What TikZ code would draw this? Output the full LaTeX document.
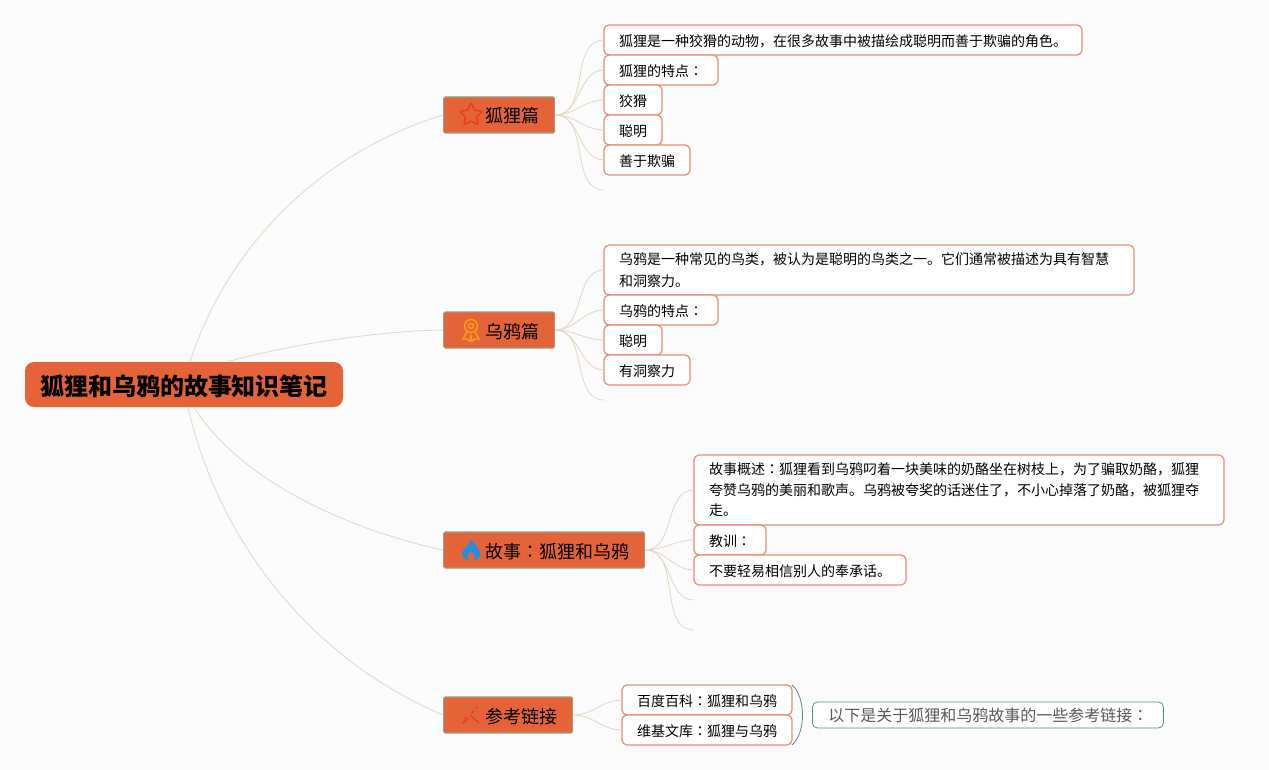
\documentclass[tikz,border=0pt]{standalone}
\usepackage{fontspec}
\setmainfont{Noto Sans CJK SC}
\newfontfamily\tcfont{Noto Sans CJK TC}
\newcommand{\midcolon}{{\tcfont ：}}
\newcommand{\dropline}[1]{\raisebox{-1.2pt}{#1}}
\usepackage{xcolor}
\usepackage{tikz}
\usetikzlibrary{positioning,shapes}
\definecolor{paper}{HTML}{FBFBFB}
\definecolor{rust}{HTML}{E56338}
\definecolor{coral}{HTML}{E98C74}
\definecolor{sand}{HTML}{E3D7C2}
\definecolor{moss}{HTML}{9C9C82}
\definecolor{teal}{HTML}{4F9188}
\definecolor{flame}{HTML}{2090DE}
\definecolor{medal}{HTML}{F5A00F}
\definecolor{ember}{HTML}{EC3C1C}
\tikzstyle{root}=[%
      rectangle, rounded corners=9pt, fill=rust, text=black,
      minimum height=45pt, minimum width=318pt, inner sep=0pt,
      text height=28pt, text depth=6pt,
      font=\fontsize{24}{28}\selectfont\bfseries
]
\tikzstyle{topic}=[%
      rectangle, rounded corners=1.5pt, draw=moss, line width=1.2pt, fill=rust,
      minimum height=36pt, inner xsep=15pt, inner ysep=0pt, align=left,
      text height=20pt, text depth=4pt,
      text width=#1, font=\fontsize{18}{22}\selectfont
]
\tikzstyle{leaf}=[%
      rectangle, rounded corners=5pt, draw=coral, line width=1.2pt, fill=white,
      minimum height=30pt, inner xsep=15pt, inner ysep=0pt, outer sep=0pt, align=left,
      text height=16pt, text depth=3.4pt,
      text width=#1, font=\fontsize{14}{20.5}\selectfont
]
\tikzstyle{longleaf}=[%
      leaf=#1, text height=, text depth=
]
\tikzstyle{note}=[%
      rectangle, rounded corners=5pt, draw=teal, line width=.8pt, fill=white, text=black!65,
      minimum height=26pt, inner xsep=16pt, inner ysep=0pt, align=left,
      text width=#1, font=\fontsize{16}{20}\selectfont
]
\tikzstyle{branch}=[draw=sand, line width=.8pt]
\begin{document}
\begin{tikzpicture}[x=1pt,y=-1pt]
    \path[use as bounding box, fill=paper] (0,0) rectangle (1269,770);

    \node[root] (root) at (184,384.5) {狐狸和乌鸦的故事知识笔记};

    \node[topic=81pt,  anchor=west] (fox)   at (443,115) {\hspace*{27pt}狐狸篇};
    \node[topic=81pt,  anchor=west] (crow)  at (443,330) {\hspace*{27pt}乌鸦篇};
    \node[topic=171pt, anchor=west] (story) at (443,550) {\hspace*{27pt}故事\midcolon 狐狸和乌鸦};
    \node[topic=99pt,  anchor=west] (refs)  at (443,715) {\hspace*{27pt}参考链接};

    % fox
    \node[leaf=448pt, anchor=north west] (fox1) at (604,25) {狐狸是一种狡猾的动物，在很多故事中被描绘成聪明而善于欺骗的角色。};
    \node[leaf=84pt]  (fox2) [below right = 0pt and 0pt of fox1.south west] {狐狸的特点\midcolon};
    \node[leaf=28pt]  (fox3) [below right = 0pt and 0pt of fox2.south west] {狡猾};
    \node[leaf=28pt]  (fox4) [below right = 0pt and 0pt of fox3.south west] {聪明};
    \node[leaf=56pt]  (fox5) [below right = 0pt and 0pt of fox4.south west] {善于欺骗};
    \coordinate (fox6) at (604,190);

    % crow
    \node[longleaf=500pt, minimum height=50pt, anchor=north west] (crow1) at (604,245)
        {\dropline{乌鸦是一种常见的鸟类，被认为是聪明的鸟类之一。它们通常被描述为具有智慧}\\[1.5pt]\dropline{和洞察力。}};
    \node[leaf=84pt]  (crow2) [below right = 0pt and 0pt of crow1.south west] {乌鸦的特点\midcolon};
    \node[leaf=28pt]  (crow3) [below right = 0pt and 0pt of crow2.south west] {聪明};
    \node[leaf=56pt]  (crow4) [below right = 0pt and 0pt of crow3.south west] {有洞察力};
    \coordinate (crow5) at (604,400);

    % story
    \node[longleaf=500pt, minimum height=70pt, anchor=north west] (story1) at (694,455)
        {\dropline{故事概述\midcolon 狐狸看到乌鸦叼着一块美味的奶酪坐在树枝上，为了骗取奶酪，狐狸}\\\dropline{夸赞乌鸦的美丽和歌声。乌鸦被夸奖的话迷住了，不小心掉落了奶酪，被狐狸夺}\\\dropline{走。}};
    \node[leaf=42pt]  (story2) [below right = 0pt and 0pt of story1.south west] {教训\midcolon};
    \node[leaf=182pt] (story3) [below right = 0pt and 0pt of story2.south west] {不要轻易相信别人的奉承话。};
    \coordinate (story4) at (694,600);
    \coordinate (story5) at (694,630);

    % links
    \node[leaf=140pt, anchor=north west] (refs1) at (622,685) {百度百科\midcolon 狐狸和乌鸦};
    \node[leaf=140pt] (refs2) [below right = 0pt and 0pt of refs1.south west] {维基文库\midcolon 狐狸与乌鸦};
    \node[note=319pt, anchor=west] (summary) at (812,715) {以下是关于狐狸和乌鸦故事的一些参考链接\midcolon};
    \draw[teal, line width=.8pt] (refs1.north east) .. controls (806,697) and (806,733) .. (refs2.south east);

    \path[branch] ([xshift=6pt]root.north) edge[out=72, in=197, looseness=.9] (fox.west)
          ([xshift=43pt]root.north) edge[out=15, in=181, looseness=.8] (crow.west)
          ([xshift=10pt]root.south) edge[out=-58, in=168, looseness=.8] (story.west)
          ([xshift=4pt]root.south) edge[out=-77, in=157, looseness=.9] (refs.west)
    ;
    \path[branch] (fox.east) edge[out=0, in=180] (fox1.west)
          (fox.east) edge[out=0, in=180] (fox2.west)
          (fox.east) edge[out=0, in=180] (fox3.west)
          (fox.east) edge[out=0, in=180] (fox4.west)
          (fox.east) edge[out=0, in=180] (fox5.west)
          (fox.east) edge[out=0, in=180] (fox6)
          (crow.east) edge[out=0, in=180] (crow1.west)
          (crow.east) edge[out=0, in=180] (crow2.west)
          (crow.east) edge[out=0, in=180] (crow3.west)
          (crow.east) edge[out=0, in=180] (crow4.west)
          (crow.east) edge[out=0, in=180] (crow5)
          (story.east) edge[out=0, in=180] (story1.west)
          (story.east) edge[out=0, in=180] (story2.west)
          (story.east) edge[out=0, in=180] (story3.west)
          (story.east) edge[out=0, in=180] (story4)
          (story.east) edge[out=0, in=180] (story5)
          (refs.east) edge[out=0, in=180] (refs1.west)
          (refs.east) edge[out=0, in=180] (refs2.west)
    ;

    % icons
    \node[star, star points=5, star point ratio=2, draw=ember, line width=1.5pt,
          minimum size=24pt, inner sep=0pt, rounded corners=1pt] (foxmark) at (471,115) {};
    \begin{scope}[shift={(471,330)}, draw=medal, line width=1.4pt]
      \draw (0,-4) circle (6.5pt);
      \draw (0,-4) circle (2.5pt);
      \draw (-4,2) -- (-8,9) -- (-4,9) -- (-1,11) -- (0,6) -- (1,11) -- (4,9) -- (8,9) -- (4,2);
    \end{scope}
    \begin{scope}[shift={(471,550)}]
      \fill[flame] (0,-10) .. controls (3,-6) and (9,-2) .. (9,4)
          .. controls (9,8) and (5,10) .. (3,10) .. controls (5,6) and (2,3) .. (0,1)
          .. controls (-2,3) and (-5,6) .. (-3,10) .. controls (-5,10) and (-9,8) .. (-9,4)
          .. controls (-9,0) and (-4,-3) .. (0,-10) -- cycle;
    \end{scope}
    \begin{scope}[shift={(471,715)}]
      \draw[ember, line width=1.6pt, line cap=round] (-8,8) -- (-3,3);
      \draw[ember, line width=1.2pt, line cap=round] (-1,0) -- (8,8);
      \draw[ember, line width=1.4pt, line cap=round] (1,-2) -- (2.5,-4) (5,-7) -- (6,-8) (-6,2) -- (-7,3);
    \end{scope}
\end{tikzpicture}
\end{document}
